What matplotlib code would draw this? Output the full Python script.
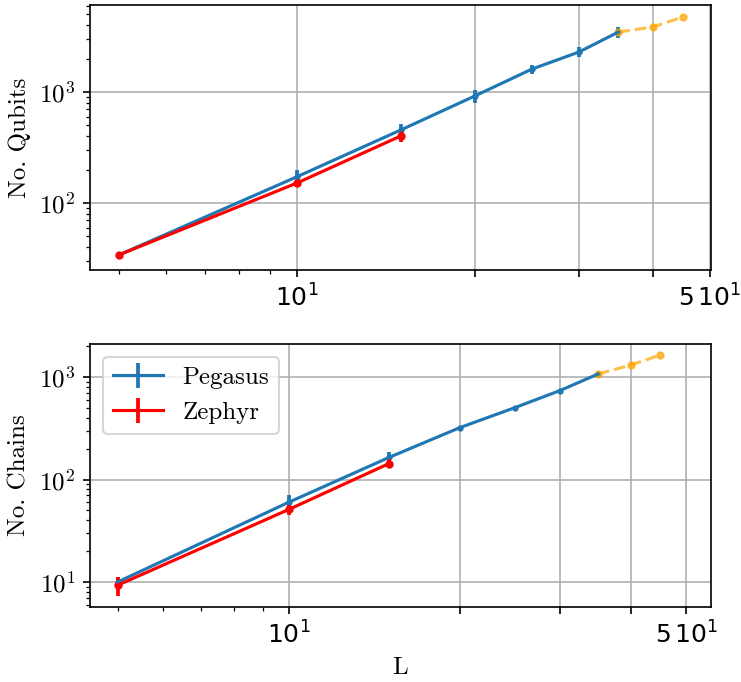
import matplotlib
matplotlib.use("Agg")
import matplotlib.pyplot as plt
import numpy as np
from matplotlib.ticker import FuncFormatter, FixedLocator, NullFormatter

# data
L_peg = [5, 10, 15, 20, 25, 30, 35]
L_zep = [5, 10, 15]
L_ext = [35, 40, 45]

qubits_peg = [34, 172, 455, 920, 1610, 2290, 3470]
qubits_peg_err = [2, 28, 65, 130, 150, 240, 400]
qubits_zep = [34, 151, 402]
qubits_zep_err = [2, 10, 45]
qubits_ext = [3470, 3850, 4740]

chains_peg = [10, 60, 164, 321, 503, 738, 1070]
chains_peg_err = [1.3, 10, 20, 10, 12, 14, 6]
chains_zep = [9.3, 51, 143]
chains_zep_err = [2, 6, 14]
chains_ext = [1070, 1310, 1640]

x_ticks = [10, 20, 30, 40, 50]

plt.rcParams['font.family'] = 'cmr10'
plt.rcParams['mathtext.fontset'] = 'cm'
plt.rcParams['axes.formatter.use_mathtext'] = True
plt.rcParams['font.size'] = 12

W, H = 741, 682
fig = plt.figure(figsize=(W / 150, H / 150), dpi=150)
ax1 = fig.add_axes([90 / W, 1 - 270 / H, 621 / W, 265 / H])
ax2 = fig.add_axes([90 / W, 1 - 607 / H, 621 / W, 263 / H])


def xfmt(v, pos):
    e = int(np.floor(np.log10(v) + 1e-9))
    c = v / 10 ** e
    if abs(c - 1) < 1e-6:
        return r'$\mathdefault{10^{%d}}$' % e
    if abs(c - 5) < 1e-6:
        return r'$\mathdefault{5\,10^{%d}}$' % e
    return ''


def panel(ax, y_peg, e_peg, y_zep, e_zep, y_ext):
    ax.errorbar(L_peg, y_peg, yerr=e_peg, color='tab:blue', lw=1.5, elinewidth=1.8, label='Pegasus')
    ax.plot(L_peg, y_peg, '.', color='tab:blue', ms=4)
    ax.errorbar(L_zep, y_zep, yerr=e_zep, color='red', lw=1.5, elinewidth=1.8, label='Zephyr')
    ax.plot(L_zep, y_zep, '.', color='red', ms=6)
    ax.plot(L_ext, y_ext, '.--', color='orange', alpha=0.7, lw=1.5, ms=6)
    ax.set_xscale('log')
    ax.set_yscale('log')
    ax.xaxis.set_major_locator(FixedLocator(x_ticks))
    ax.xaxis.set_major_formatter(FuncFormatter(xfmt))
    ax.xaxis.set_minor_formatter(NullFormatter())
    ax.tick_params(axis='x', labelfontfamily='DejaVu Sans')
    ax.grid(True, which='major')


panel(ax1, qubits_peg, qubits_peg_err, qubits_zep, qubits_zep_err, qubits_ext)
ax1.set_xlim(4.47, 50.2)
ax1.set_ylim(24.9, 6080)
ax1.set_ylabel('No. Qubits')

panel(ax2, chains_peg, chains_peg_err, chains_zep, chains_zep_err, chains_ext)
ax2.set_xlim(4.47, 55.3)
ax2.set_ylim(5.7, 2100)
ax2.set_ylabel('No. Chains')
ax2.set_xlabel('L')
ax2.legend(loc='upper left')

fig.savefig('out.png', dpi=150)
